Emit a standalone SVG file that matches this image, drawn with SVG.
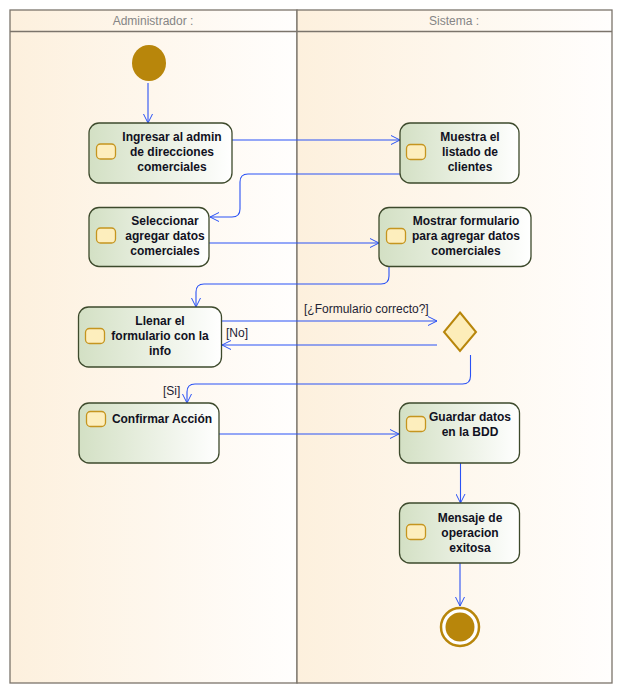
<svg xmlns="http://www.w3.org/2000/svg" width="623" height="694" viewBox="0 0 623 694">
  <defs>
    <linearGradient id="lane" x1="0" y1="0" x2="1" y2="0">
      <stop offset="0" stop-color="#fdf0dd"/>
      <stop offset="1" stop-color="#fffefd"/>
    </linearGradient>
    <linearGradient id="act" x1="0" y1="0" x2="1" y2="0">
      <stop offset="0" stop-color="#d3e0c4"/>
      <stop offset="1" stop-color="#ffffff"/>
    </linearGradient>
    <marker id="arr" viewBox="0 0 10 10" refX="10" refY="5" markerWidth="10" markerHeight="10" markerUnits="userSpaceOnUse" orient="auto">
      <path d="M1,0.5 L10,5 L1,9.5" fill="none" stroke="#2a52f5" stroke-width="1"/>
    </marker>
  </defs>
  <style>
    .lane { fill: url(#lane); stroke: #7b746b; stroke-width: 1.3; }
    .hdr { font-family: "Liberation Sans", Arial, sans-serif; font-size: 12px; fill: #858585; text-anchor: middle; }
    .box { fill: url(#act); stroke: #3d4a2c; stroke-width: 1.3; }
    .ico { fill: #fdeebd; stroke: #c5951f; stroke-width: 1.3; }
    .lbl { font-family: "Liberation Sans", Arial, sans-serif; font-size: 12px; font-weight: bold; fill: #111122; text-anchor: middle; }
    .grd { font-family: "Liberation Sans", Arial, sans-serif; font-size: 12px; fill: #222233; }
    .edge { fill: none; stroke: #2a52f5; stroke-width: 1.1; marker-end: url(#arr); }
  </style>

  <!-- swimlanes -->
  <g id="lanes">
    <rect class="lane" x="10" y="10" width="287" height="673"/>
    <rect class="lane" x="297" y="10" width="315" height="673"/>
    <line x1="10" y1="31.5" x2="612" y2="31.5" stroke="#7b746b" stroke-width="1.3"/>
    <text class="hdr" x="153" y="25">Administrador :</text>
    <text class="hdr" x="454" y="25">Sistema :</text>
  </g>

  <!-- connectors -->
  <g id="connectors">
    <path class="edge" d="M148,83 V123"/>
    <path class="edge" d="M232,140 H400"/>
    <path class="edge" d="M400,174 H248 Q240,174 240,182 V209 Q240,217 232,217 H210"/>
    <path class="edge" d="M209,243 H379"/>
    <path class="edge" d="M389,267 V276 Q389,284 381,284 H204 Q196,284 196,292 V307"/>
    <path class="edge" d="M222,321 H437"/>
    <path class="edge" d="M437,345 H222"/>
    <path class="edge" d="M470.5,355 V376 Q470.5,384 462.5,384 H195 Q187,384 187,392 V403"/>
    <path class="edge" d="M219,434 H399"/>
    <path class="edge" d="M460.5,463 V503"/>
    <path class="edge" d="M460,563 V606"/>
    <text class="grd" x="304" y="313">[¿Formulario correcto?]</text>
    <text class="grd" x="226" y="337">[No]</text>
    <text class="grd" x="163" y="395">[Si]</text>
  </g>

  <g id="start">
    <ellipse cx="149" cy="63" rx="17" ry="18" fill="#b8860b"/>
  </g>

  <g id="ingresar">
    <rect class="box" x="89" y="123" width="143" height="60" rx="10"/>
    <rect class="ico" x="96.5" y="144" width="19" height="15" rx="4"/>
    <text class="lbl" x="172" y="141">Ingresar al admin</text>
    <text class="lbl" x="172" y="156">de direcciones</text>
    <text class="lbl" x="172" y="171">comerciales</text>
  </g>

  <g id="muestra">
    <rect class="box" x="400" y="123" width="119" height="60" rx="10"/>
    <rect class="ico" x="406.5" y="144.5" width="19" height="15" rx="4"/>
    <text class="lbl" x="470" y="141">Muestra el</text>
    <text class="lbl" x="470" y="156">listado de</text>
    <text class="lbl" x="470" y="171">clientes</text>
  </g>

  <g id="seleccionar">
    <rect class="box" x="89" y="207.5" width="120" height="59" rx="10"/>
    <rect class="ico" x="96.5" y="228" width="19" height="15" rx="4"/>
    <text class="lbl" x="165" y="225">Seleccionar</text>
    <text class="lbl" x="165" y="240">agregar datos</text>
    <text class="lbl" x="165" y="255">comerciales</text>
  </g>

  <g id="mostrar">
    <rect class="box" x="379" y="207.5" width="152" height="59" rx="10"/>
    <rect class="ico" x="386.5" y="228.5" width="19" height="15" rx="4"/>
    <text class="lbl" x="466" y="225">Mostrar formulario</text>
    <text class="lbl" x="466" y="240">para agregar datos</text>
    <text class="lbl" x="466" y="255">comerciales</text>
  </g>

  <g id="llenar">
    <rect class="box" x="78.5" y="307" width="143" height="60" rx="10"/>
    <rect class="ico" x="85.5" y="328.5" width="19" height="15" rx="4"/>
    <text class="lbl" x="160" y="325">Llenar el</text>
    <text class="lbl" x="160" y="340">formulario con la</text>
    <text class="lbl" x="160" y="355">info</text>
  </g>

  <g id="decision">
    <polygon points="460,312.5 476,332 460,351 444,332" fill="#fdedb9" stroke="#b8860b" stroke-width="2"/>
  </g>

  <g id="confirmar">
    <rect class="box" x="79" y="403" width="140" height="60" rx="10"/>
    <rect class="ico" x="86.5" y="411.5" width="19" height="15" rx="4"/>
    <text class="lbl" x="162" y="422.5">Confirmar Acción</text>
  </g>

  <g id="guardar">
    <rect class="box" x="399.5" y="403" width="120" height="60" rx="10"/>
    <rect class="ico" x="406.5" y="416.5" width="19" height="15" rx="4"/>
    <text class="lbl" x="470" y="421">Guardar datos</text>
    <text class="lbl" x="470" y="436">en la BDD</text>
  </g>

  <g id="mensaje">
    <rect class="box" x="399.5" y="503" width="120" height="60" rx="10"/>
    <rect class="ico" x="406.5" y="524.5" width="19" height="15" rx="4"/>
    <text class="lbl" x="470" y="521.5">Mensaje de</text>
    <text class="lbl" x="470" y="536.5">operacion</text>
    <text class="lbl" x="470" y="551.5">exitosa</text>
  </g>

  <g id="end">
    <circle cx="460" cy="627" r="19" fill="#ffffff" stroke="#b8860b" stroke-width="2.5"/>
    <circle cx="460" cy="627" r="14.5" fill="#b8860b"/>
  </g>
</svg>
